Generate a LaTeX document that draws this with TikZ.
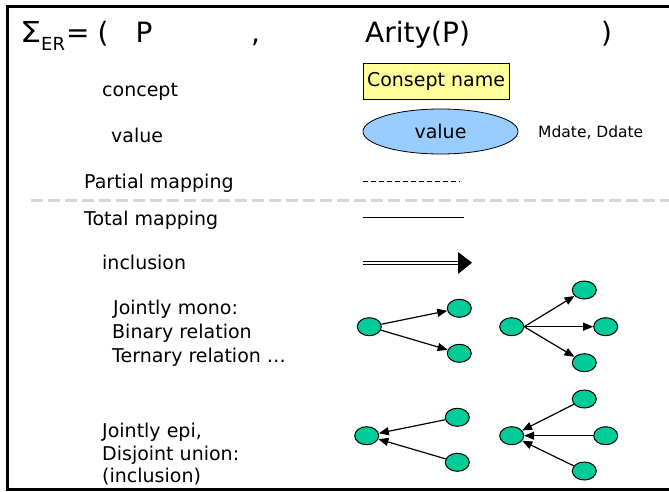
\documentclass[tikz,border=0pt]{standalone}
\usepackage{fontspec}
\setmainfont{DejaVu Sans}
\usetikzlibrary{shapes.geometric,arrows.meta}
\definecolor{conceptfill}{HTML}{FFFF99}
\definecolor{valuefill}{HTML}{99CCFF}
\definecolor{dotfill}{HTML}{00CC99}
\definecolor{sepgray}{HTML}{D6D6D6}
\tikzset{
  lbl/.style={anchor=base west,inner sep=0pt,font=\fontsize{19}{23}\selectfont},
  ttl/.style={anchor=base west,inner sep=0pt,font=\fontsize{28}{32}\selectfont},
  dot/.style={ellipse,draw,line width=1pt,fill=dotfill,minimum width=24pt,minimum height=18pt,inner sep=0pt},
  arr/.style={line width=1.2pt,-{Triangle[length=10pt,width=8pt]}},
}
\begin{document}
\begin{tikzpicture}[x=1pt,y=-1pt]
\useasboundingbox (0,0) rectangle (669,492);
% open frame
\draw[line width=2.3pt] (669,6.5) -- (7.5,6.5) -- (7.5,489.5) -- (669,489.5);

% signature line
\node[anchor=base west,inner sep=0pt,font=\fontsize{28}{32}\selectfont] (sig) at (20,42.3) {\scalebox{1.2}[1.03]{Σ}};
\node[anchor=base west,inner sep=0pt,font=\fontsize{18}{20}\selectfont] (sigsub) at (41,51) {ER};
\node[ttl] (eq) at (66,42.3) {=};
\node[ttl] (lp) at (97.5,42.3) {(};
\node[ttl] (p) at (135.3,42.3) {P};
\node[ttl] (comma) at (251,42.3) {,};
\node[ttl] (arity) at (365,42.3) {Arity(P)};
\node[ttl] (rp) at (601,42.3) {)};

% left column
\node[lbl] (tconcept) at (102,96.7) {concept};
\node[lbl] (tvalue) at (111,142.7) {value};
\node[lbl] (tpartial) at (84,188) {Partial mapping};
\node[lbl] (ttotal) at (84,225) {Total mapping};
\node[lbl] (tincl) at (102,269) {inclusion};
\node[lbl] (tmono1) at (113,314) {Jointly mono:};
\node[lbl] (tmono2) at (112,338) {Binary relation};
\node[lbl] (tmono3) at (112,362) {Ternary relation …};
\node[lbl] (tepi1) at (102,437) {Jointly epi,};
\node[lbl] (tepi2) at (102,460) {Disjoint union:};
\node[lbl] (tepi3) at (102,482) {(inclusion)};

% concept and value symbols
\node[draw,line width=0.8pt,fill=conceptfill,minimum width=146pt,minimum height=36pt,inner sep=0pt,
      font=\fontsize{19}{23}\selectfont] (cname) at (436,81) {Consept name};
\node[ellipse,draw,line width=0.8pt,fill=valuefill,minimum width=155pt,minimum height=45pt,inner sep=0pt,
      font=\fontsize{19}{23}\selectfont] (val) at (440.5,131.5) {value};
\node[anchor=base west,inner sep=0pt,font=\fontsize{15.5}{18}\selectfont] (mdate) at (538,138) {Mdate, Ddate};

% mappings
\coordinate (pa) at (363,181);
\coordinate (pb) at (460,181);
\draw[line width=0.9pt,dash pattern=on 5pt off 3pt] (pa) -- (pb);
\draw[sepgray,line width=2.5pt,dash pattern=on 12pt off 5pt] (31,200.7) -- (669,200.7);
\coordinate (ta) at (363,217.7);
\coordinate (tb) at (464,217.7);
\draw[line width=1pt] (ta) -- (tb);

% inclusion arrow
\coordinate (ia) at (363,262.7);
\coordinate (ib) at (458,262.7);
\draw[double,line width=1pt,double distance=1.6pt] (ia) -- (ib);
\fill (458,252) -- (472,262.7) -- (458,274) -- cycle;

% jointly mono, binary
\node[dot] (m1s) at (369.3,326.7) {};
\node[dot] (m1a) at (459.3,308.3) {};
\node[dot] (m1b) at (459.3,353.3) {};
\draw[arr] (m1s) -- (m1a);
\draw[arr] (m1s) -- (m1b);

% jointly mono, ternary
\node[dot] (m2s) at (511.7,326.7) {};
\node[dot] (m2a) at (584.3,290) {};
\node[dot] (m2b) at (605.7,326.7) {};
\node[dot] (m2c) at (584.3,362.7) {};
\draw[arr] (m2s.east) -- (m2a);
\draw[arr] (m2s.east) -- (m2b);
\draw[arr] (m2s.east) -- (m2c);

% jointly epi, two summands
\node[dot] (e1t) at (366.7,435.7) {};
\node[dot] (e1a) at (457.3,417.3) {};
\node[dot] (e1b) at (457.3,462.3) {};
\draw[arr] (e1a) -- (e1t);
\draw[arr] (e1b) -- (e1t);

% jointly epi, three summands
\node[dot] (e2t) at (511.7,435.7) {};
\node[dot] (e2a) at (584.3,399) {};
\node[dot] (e2b) at (605.7,435.7) {};
\node[dot] (e2c) at (584.3,471) {};
\draw[arr] (e2a) -- (e2t);
\draw[arr] (e2b) -- (e2t);
\draw[arr] (e2c) -- (e2t);
\end{tikzpicture}
\end{document}
